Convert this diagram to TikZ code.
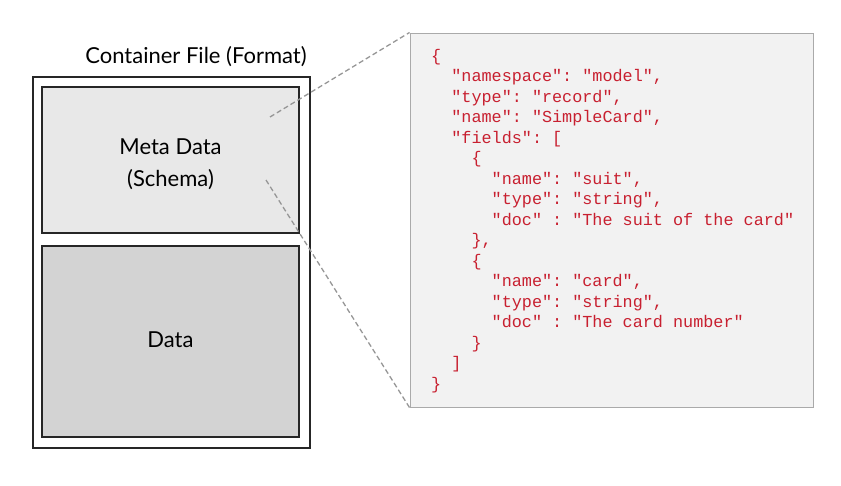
\documentclass[tikz,border=0pt]{standalone}
\usepackage{fontspec}
\setmainfont{Lato}
\setmonofont{Liberation Mono}
\definecolor{codered}{RGB}{200,32,48}
\definecolor{metafill}{RGB}{232,232,232}
\definecolor{datafill}{RGB}{211,211,211}
\definecolor{panelfill}{RGB}{242,242,242}
\definecolor{panelline}{RGB}{170,170,170}
\definecolor{dashgray}{RGB}{150,150,150}
\begin{document}
\begin{tikzpicture}[x=1pt,y=-1pt,
  boxstyle/.style={draw=black!85,line width=1.8pt},
  lbl/.style={font=\fontsize{22}{32}\selectfont,align=center},
  code/.style={font=\ttfamily\fontsize{16.8}{20.5}\selectfont,text=codered,anchor=north west,align=left,inner sep=0pt},
  zoomline/.style={draw=dashgray,dashed,line width=1.3pt,dash pattern=on 5pt off 3pt}]
\useasboundingbox (0,0) rectangle (841,485);
\node[lbl,anchor=south] (title) at (196,70) {Container File (Format)};
\draw[boxstyle] (33,77) rectangle (310,448);
\node[boxstyle,fill=metafill,minimum width=257pt,minimum height=146pt,inner sep=0pt] (meta) at (170.5,160) {};
\node[lbl] (metatxt) at (170.5,164) {Meta Data\\(Schema)};
\node[boxstyle,fill=datafill,minimum width=257pt,minimum height=191pt,inner sep=0pt] (data) at (170.5,341.5) {};
\node[lbl] (datatxt) at (170.5,340) {Data};
\node[draw=panelline,line width=1pt,fill=panelfill,minimum width=403pt,minimum height=374pt,inner sep=0pt] (panel) at (611.5,220) {};
\coordinate (a1) at (270,117);
\coordinate (a2) at (266,180);
\draw[zoomline] (a1) -- (panel.north west);
\draw[zoomline] (a2) -- (panel.south west);
\node[code] (json) at (431,49) {%
\{\\
\ \ "namespace":\ "model",\\
\ \ "type":\ "record",\\
\ \ "name":\ "SimpleCard",\\
\ \ "fields":\ [\\
\ \ \ \ \{\\
\ \ \ \ \ \ "name":\ "suit",\\
\ \ \ \ \ \ "type":\ "string",\\
\ \ \ \ \ \ "doc"\ :\ "The\ suit\ of\ the\ card"\\
\ \ \ \ \},\\
\ \ \ \ \{\\
\ \ \ \ \ \ "name":\ "card",\\
\ \ \ \ \ \ "type":\ "string",\\
\ \ \ \ \ \ "doc"\ :\ "The\ card\ number"\\
\ \ \ \ \}\\
\ \ ]\\
\}};
\end{tikzpicture}
\end{document}
